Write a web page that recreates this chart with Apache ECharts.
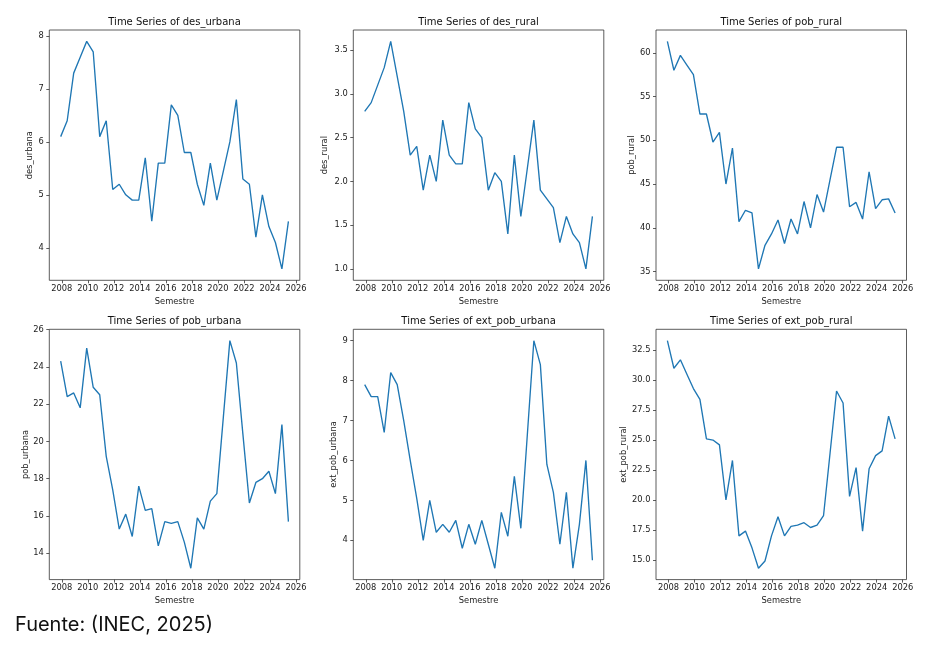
<!DOCTYPE html>
<html>
<head>
<meta charset="utf-8">
<script src="https://cdn.jsdelivr.net/npm/echarts@6/dist/echarts.min.js"></script>
<style>
html,body{margin:0;padding:0;background:#fff;}
#chart{width:936px;height:648px;}
</style>
</head>
<body>
<div id="chart"></div>
<script>
// ---- Data ----
const semestres = ['2007-12','2008-06','2008-12','2009-06','2009-12','2010-06','2010-12','2011-06','2011-12',
  '2012-06','2012-12','2013-06','2013-12','2014-06','2014-12','2015-06','2015-12','2016-06','2016-12',
  '2017-06','2017-12','2018-06','2018-12','2019-06','2019-12','2020-06','2020-12','2021-06','2021-12',
  '2022-06','2022-12','2023-06','2023-12','2024-06','2024-12','2025-06'];

const desUrbana = [6.1,6.4,7.3,7.6,7.9,7.7,6.1,6.4,5.1,5.2,5.0,4.9,4.9,5.7,4.5,5.6,5.6,6.7,6.5,
  5.8,5.8,5.2,4.8,5.6,4.9,5.45,6.0,6.8,5.3,5.2,4.2,5.0,4.4,4.1,3.6,4.5];
const desRural = [2.8,2.9,3.1,3.3,3.6,3.2,2.8,2.3,2.4,1.9,2.3,2.0,2.7,2.3,2.2,2.2,2.9,2.6,2.5,
  1.9,2.1,2.0,1.4,2.3,1.6,2.15,2.7,1.9,1.8,1.7,1.3,1.6,1.4,1.3,1.0,1.6];
const pobRural = [61.3,58.0,59.7,58.6,57.5,53.0,53.0,49.8,50.9,45.0,49.1,40.7,42.0,41.7,35.3,38.0,39.3,40.9,38.2,
  41.0,39.3,43.0,40.0,43.8,41.8,45.5,49.2,49.2,42.4,42.9,41.0,46.4,42.2,43.2,43.3,41.7];
const pobUrbana = [24.3,22.4,22.6,21.8,25.0,22.9,22.5,19.2,17.4,15.3,16.1,14.9,17.6,16.3,16.4,14.4,15.7,15.6,15.7,
  14.6,13.2,15.9,15.3,16.8,17.2,21.3,25.4,24.2,20.4,16.7,17.8,18.0,18.4,17.2,20.9,15.7];
const extPobUrbana = [7.9,7.6,7.6,6.7,8.2,7.9,7.0,6.0,5.05,4.0,5.0,4.2,4.4,4.2,4.5,3.8,4.4,3.9,4.5,
  3.9,3.3,4.7,4.1,5.6,4.3,6.65,9.0,8.4,5.9,5.2,3.9,5.2,3.3,4.4,6.0,3.5];
const extPobRural = [33.3,31.0,31.7,30.5,29.3,28.4,25.1,25.0,24.6,20.0,23.3,17.0,17.4,16.0,14.3,14.9,17.0,18.6,17.0,
  17.8,17.9,18.1,17.7,17.9,18.7,23.9,29.1,28.1,20.3,22.7,17.4,22.6,23.7,24.1,27.0,25.1];

// Tick labels
const xTicks = [2008,2010,2012,2014,2016,2018,2020,2022,2024,2026];
const yTicksDesUrbana = [4,5,6,7,8];
const yTicksDesRural = [1.0,1.5,2.0,2.5,3.0,3.5];
const yTicksPobRural = [35,40,45,50,55,60];
const yTicksPobUrbana = [14,16,18,20,22,24,26];
const yTicksExtPobUrbana = [4,5,6,7,8,9];
const yTicksExtPobRural = [15.0,17.5,20.0,22.5,25.0,27.5,30.0,32.5];

const footer = 'Fuente: (INEC, 2025)';

// ---- Build chart ----
const xs = semestres.map(s => { const [y, m] = s.split('-').map(Number); return y + (m - 1) / 12; });

const panels = [
  { name: 'des_urbana', data: desUrbana, ticks: yTicksDesUrbana, dec: 0 },
  { name: 'des_rural', data: desRural, ticks: yTicksDesRural, dec: 1 },
  { name: 'pob_rural', data: pobRural, ticks: yTicksPobRural, dec: 0 },
  { name: 'pob_urbana', data: pobUrbana, ticks: yTicksPobUrbana, dec: 0 },
  { name: 'ext_pob_urbana', data: extPobUrbana, ticks: yTicksExtPobUrbana, dec: 0 },
  { name: 'ext_pob_rural', data: extPobRural, ticks: yTicksExtPobRural, dec: 1 }
];

const lefts = [49.3, 353.3, 656];
const tops = [30, 329.3];
const W = 250.5, H = 250.3;
const FONT = 'DejaVu Sans';
const INK = '#222';
const margin = v => 0.05 * (v.max - v.min);

const grids = [], xAxes = [], yAxes = [], series = [], titles = [];
panels.forEach((p, i) => {
  const col = i % 3, row = Math.floor(i / 3);
  const left = lefts[col], top = tops[row];
  grids.push({ left: left, top: top, width: W, height: H, show: true,
    borderColor: '#333', borderWidth: 0.8, backgroundColor: 'transparent', containLabel: false });
  titles.push({ text: 'Time Series of ' + p.name, left: left + W / 2, top: top - 12.5, textAlign: 'center',
    padding: 0,
    textStyle: { fontFamily: FONT, fontSize: 10, fontWeight: 'normal', color: '#111' } });
  xAxes.push({ type: 'value', gridIndex: i,
    min: v => v.min - margin(v), max: v => v.max + margin(v),
    name: 'Semestre', nameLocation: 'middle', nameGap: 17.5,
    nameTextStyle: { fontFamily: FONT, fontSize: 8.3, color: INK },
    axisLine: { show: false },
    axisTick: { show: true, inside: false, length: 3, lineStyle: { color: '#333', width: 0.8 }, customValues: xTicks },
    axisLabel: { fontFamily: FONT, fontSize: 8.3, color: INK, margin: 4.5, customValues: xTicks, formatter: v => String(Math.round(v)) },
    splitLine: { show: false } });
  yAxes.push({ type: 'value', gridIndex: i,
    min: v => v.min - margin(v), max: v => v.max + margin(v),
    name: p.name, nameLocation: 'middle', nameRotate: 90,
    nameGap: p.dec ? 24 : (p.ticks[p.ticks.length - 1] >= 10 ? 19 : 15),
    nameTextStyle: { fontFamily: FONT, fontSize: 8.3, color: INK },
    axisLine: { show: false },
    axisTick: { show: true, inside: false, length: 3, lineStyle: { color: '#333', width: 0.8 }, customValues: p.ticks },
    axisLabel: { fontFamily: FONT, fontSize: 8.3, color: INK, margin: 5.5, customValues: p.ticks, formatter: v => v.toFixed(p.dec) },
    splitLine: { show: false } });
  series.push({ type: 'line', xAxisIndex: i, yAxisIndex: i, showSymbol: false, symbol: 'none',
    data: xs.map((x, k) => [x, p.data[k]]),
    lineStyle: { color: '#1f77b4', width: 1.35 }, animation: false });
});

const chart = echarts.init(document.getElementById('chart'), null, { renderer: 'canvas' });
chart.setOption({
  backgroundColor: '#fff',
  animation: false,
  title: titles,
  grid: grids,
  xAxis: xAxes,
  yAxis: yAxes,
  series: series,
  graphic: [{ type: 'text', left: 15, top: 615,
    style: { text: footer, fontFamily: 'Inter', fontSize: 20, fill: '#111' } }]
});
</script>
</body>
</html>
